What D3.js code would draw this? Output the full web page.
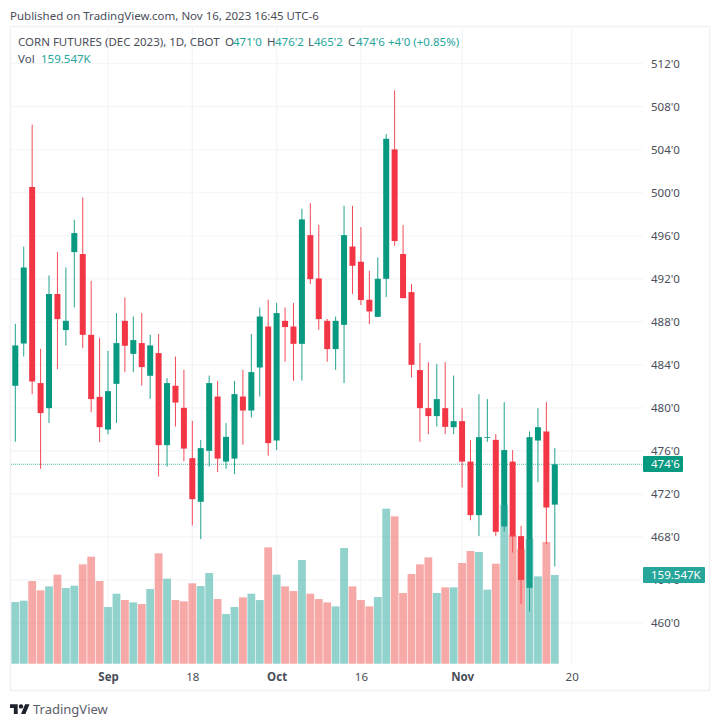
<!DOCTYPE html>
<html>
<head>
<meta charset="utf-8">
<script src="https://cdn.jsdelivr.net/npm/d3@7"></script>
<style>
  html, body { margin: 0; padding: 0; background: #fff; }
  text { font-family: "Noto Sans", sans-serif; }
</style>
</head>
<body>
<div id="chart"></div>
<script>
const opens = [
  482.05, 485.98, 500.53, 482.30, 479.97, 490.58, 487.23, 494.48, 494.30, 486.79,
  481.02, 477.98, 482.23, 488.09, 485.02, 486.02, 482.98, 485.09, 476.53, 482.05,
  480.00, 475.32, 471.26, 476.00, 481.05, 475.00, 475.28, 481.05, 479.75, 483.75,
  487.56, 476.96, 488.09, 487.56, 485.95, 496.06, 492.03, 488.09, 485.46, 487.72,
  495.00, 493.58, 490.05, 488.46, 492.00, 504.03, 494.30, 490.76, 483.51, 479.97,
  479.23, 479.97, 478.20, 478.76, 475.00, 470.02, 477.24, 477.02, 468.96, 475.00,
  468.07, 463.26, 476.96, 477.80, 471.00
];
const highs = [
  487.81, 495.00, 506.33, 485.49, 492.31, 494.48, 493.05, 497.49, 499.56, 491.81,
  486.51, 485.30, 488.81, 490.26, 488.49, 488.81, 486.79, 486.86, 482.76, 484.77,
  483.53, 478.79, 477.02, 483.00, 482.51, 478.58, 482.51, 483.53, 486.86, 489.33,
  490.05, 489.74, 489.33, 489.74, 498.51, 499.04, 497.02, 488.28, 488.49, 498.79,
  498.79, 496.81, 492.74, 493.98, 505.46, 509.52, 496.99, 491.51, 486.02, 484.25,
  484.06, 484.25, 483.00, 479.97, 477.02, 481.27, 480.81, 477.55, 480.53, 476.07,
  469.02, 477.80, 479.97, 480.53, 476.25
];
const lows = [
  476.84, 484.77, 481.27, 474.33, 478.58, 483.60, 485.80, 489.33, 485.55, 479.60,
  476.81, 477.55, 478.58, 483.32, 483.32, 482.07, 480.84, 473.61, 474.54, 478.26,
  475.04, 469.05, 467.79, 474.54, 474.02, 474.33, 473.83, 476.56, 479.10, 481.05,
  475.56, 476.07, 484.28, 482.51, 482.54, 491.51, 487.26, 484.28, 483.53, 482.30,
  490.58, 489.55, 487.79, 488.46, 490.30, 495.07, 490.20, 482.82, 476.84, 477.55,
  478.26, 477.55, 477.55, 472.59, 469.55, 468.09, 476.84, 468.09, 468.49, 466.54,
  461.77, 461.05, 473.09, 467.32, 465.25
];
const closes = [
  485.80, 493.05, 482.45, 479.51, 490.58, 488.25, 488.09, 496.25, 486.79, 480.81,
  478.20, 481.55, 486.02, 485.77, 486.30, 483.79, 485.80, 476.53, 482.30, 480.49,
  476.21, 471.51, 476.25, 482.30, 475.28, 477.30, 481.27, 479.75, 483.32, 488.49,
  476.72, 488.81, 487.51, 485.95, 497.52, 491.97, 488.25, 485.46, 488.09, 496.06,
  493.21, 490.02, 488.96, 492.00, 505.02, 495.51, 490.20, 484.00, 479.97, 479.23,
  480.81, 478.23, 478.76, 475.00, 470.02, 477.27, 477.27, 468.47, 476.07, 468.03,
  464.00, 477.27, 478.20, 470.73, 474.75
];
const volumes = [
  110.9, 113.3, 148.7, 131.9, 139.1, 160.1, 136.1, 140.3, 178.7, 192.5,
  148.7, 101.9, 125.9, 114.5, 110.3, 107.3, 134.3, 198.5, 152.9, 114.5,
  112.1, 144.5, 139.7, 163.1, 116.3, 89.3, 101.9, 119.3, 125.9, 114.5,
  209.3, 160.1, 139.1, 130.7, 186.5, 125.9, 116.3, 110.3, 103.1, 208.1,
  139.1, 114.5, 103.1, 119.9, 278.8, 265.0, 127.1, 161.3, 178.7, 191.3,
  127.1, 137.3, 137.3, 181.1, 202.7, 200.9, 133.1, 179.9, 285.4, 231.4,
  206.3, 224.3, 157.1, 218.9, 159.547
];
const priceTicks = [460, 464, 468, 472, 476, 480, 484, 488, 492, 496, 500, 504, 508, 512];
// bar number of each label on the time axis, Aug 17 is bar 0
const timeTickBars = [11, 21, 31, 41, 53, 66];
const timeTickLabels = ['Sep', '18', 'Oct', '16', 'Nov', '20'];
const boldTimeLabels = ['Sep', 'Oct', 'Nov'];

const upColor = '#089981';
const downColor = '#f23645';
const textColor = '#4a4e59';
const gridColor = '#f4f5f8';

const fmtPrice = (p) => `${Math.floor(p)}'${Math.round((p % 1) * 8)}`;

const svg = d3.select('#chart')
  .append('svg')
  .attr('width', 720)
  .attr('height', 726)
  .style('display', 'block');

const plotLeft = 11;
const plotRight = 643;
const plotTop = 27;
const plotBottom = 663.7;

const x = d3.scaleLinear().domain([0, 64]).range([15.3, 554.8]);
const y = d3.scaleLinear().domain([460, 512]).range([622.9, 63.7]);
const yVol = d3.scaleLinear().domain([0, 300]).range([plotBottom, plotBottom - 166.8]);

const bars = opens.map((o, i) => ({ i, o, h: highs[i], l: lows[i], c: closes[i], v: volumes[i] }));
const barColor = (d) => (d.c >= d.o ? upColor : downColor);

// frame
svg.append('rect')
  .attr('x', 10.5)
  .attr('y', 26.5)
  .attr('width', 699)
  .attr('height', 664)
  .attr('fill', 'none')
  .attr('stroke', '#eff1f6')
  .attr('stroke-width', 1.4);

// grid
svg.append('g')
  .selectAll('line')
  .data(priceTicks)
  .enter()
  .append('line')
  .attr('x1', plotLeft)
  .attr('x2', plotRight)
  .attr('y1', (d) => y(d))
  .attr('y2', (d) => y(d))
  .attr('stroke', gridColor)
  .attr('stroke-width', 1.2);

svg.append('g')
  .selectAll('line')
  .data(timeTickBars)
  .enter()
  .append('line')
  .attr('x1', (d) => x(d))
  .attr('x2', (d) => x(d))
  .attr('y1', plotTop)
  .attr('y2', plotBottom)
  .attr('stroke', gridColor)
  .attr('stroke-width', 1.2);

// last price line
svg.append('line')
  .attr('x1', plotLeft)
  .attr('x2', plotRight)
  .attr('y1', y(474.75))
  .attr('y2', y(474.75))
  .attr('stroke', upColor)
  .attr('stroke-width', 1)
  .attr('stroke-dasharray', '1 1')
  .attr('opacity', 0.7);

// candles
const candles = svg.append('g').selectAll('g').data(bars).enter().append('g');

candles.append('line')
  .attr('x1', (d) => x(d.i))
  .attr('x2', (d) => x(d.i))
  .attr('y1', (d) => y(d.h))
  .attr('y2', (d) => y(d.l))
  .attr('stroke', barColor)
  .attr('stroke-width', 0.9);

candles.append('rect')
  .attr('x', (d) => x(d.i) - 3)
  .attr('y', (d) => y(Math.max(d.o, d.c)))
  .attr('width', 6)
  .attr('height', (d) => Math.max(0.8, Math.abs(y(d.o) - y(d.c))))
  .attr('fill', barColor);

// volume sits over the candles
svg.append('g')
  .selectAll('rect')
  .data(bars)
  .enter()
  .append('rect')
  .attr('x', (d) => x(d.i) - 3.9)
  .attr('y', (d) => yVol(d.v))
  .attr('width', 7.8)
  .attr('height', (d) => plotBottom - yVol(d.v))
  .attr('fill', (d) => (d.c >= d.o ? '#26a69a' : '#ef5350'))
  .attr('opacity', 0.5);

// price axis
const priceAxis = svg.append('g')
  .attr('transform', `translate(${plotRight},0)`)
  .call(d3.axisRight(y).tickValues(priceTicks).tickSize(0).tickPadding(8).tickFormat(fmtPrice));
priceAxis.select('.domain').remove();
priceAxis.selectAll('text')
  .attr('fill', textColor)
  .style('font-size', '11.5px');

// time axis
const timeAxis = svg.append('g')
  .attr('transform', `translate(0,${plotBottom})`)
  .call(d3.axisBottom(x)
    .tickValues(timeTickBars)
    .tickSize(0)
    .tickPadding(9)
    .tickFormat((d, i) => timeTickLabels[i]));
timeAxis.select('.domain').remove();
timeAxis.selectAll('text')
  .attr('fill', textColor)
  .style('font-size', '11.5px')
  .style('font-weight', (d, i) => (boldTimeLabels.includes(timeTickLabels[i]) ? 700 : 400));

// price and volume tags
svg.append('rect')
  .attr('x', 643).attr('y', 456).attr('width', 40).attr('height', 16).attr('rx', 1)
  .attr('fill', upColor);
svg.append('text')
  .attr('x', 651).attr('y', 468)
  .attr('fill', '#fff')
  .style('font-size', '11.5px')
  .text(fmtPrice(474.75));

svg.append('rect')
  .attr('x', 643).attr('y', 567).attr('width', 62).attr('height', 16).attr('rx', 1)
  .attr('fill', '#26a69a');
svg.append('text')
  .attr('x', 651).attr('y', 579)
  .attr('fill', '#fff')
  .style('font-size', '11.5px')
  .text('159.547K');

// header and legend
svg.append('text')
  .attr('x', 10).attr('y', 20)
  .attr('fill', textColor)
  .style('font-size', '11.5px')
  .text('Published on TradingView.com, Nov 16, 2023 16:45 UTC-6');

const legendParts = [
  { x: 18, text: 'CORN FUTURES (DEC 2023), 1D, CBOT', fill: textColor },
  { x: 225, text: 'O', fill: textColor },
  { x: 233, text: fmtPrice(opens[64]), fill: '#26a69a' },
  { x: 267, text: 'H', fill: textColor },
  { x: 275, text: fmtPrice(highs[64]), fill: '#26a69a' },
  { x: 308, text: 'L', fill: textColor },
  { x: 314, text: fmtPrice(lows[64]), fill: '#26a69a' },
  { x: 348, text: 'C', fill: textColor },
  { x: 356, text: fmtPrice(closes[64]), fill: '#26a69a' },
  { x: 388, text: "+4'0 (+0.85%)", fill: '#26a69a' }
];
svg.append('g')
  .selectAll('text')
  .data(legendParts)
  .enter()
  .append('text')
  .attr('x', (d) => d.x)
  .attr('y', 46)
  .attr('fill', (d) => d.fill)
  .style('font-size', '11.5px')
  .text((d) => d.text);

svg.append('text')
  .attr('x', 18).attr('y', 63)
  .attr('fill', textColor)
  .style('font-size', '11.5px')
  .text('Vol');
svg.append('text')
  .attr('x', 41).attr('y', 63)
  .attr('fill', '#26a69a')
  .style('font-size', '11.5px')
  .text('159.547K');

// logo
const logo = svg.append('g').attr('transform', 'translate(10,702) scale(0.55)').attr('fill', '#1e222d');
logo.append('path').attr('d', 'M14 22H7V11H0V4h14v18zM28 22h-8l7.5-18h8L28 22z');
logo.append('circle').attr('cx', 20).attr('cy', 8).attr('r', 4);
svg.append('text')
  .attr('x', 33).attr('y', 714)
  .attr('fill', '#5d606b')
  .style('font-size', '13px')
  .text('TradingView');
</script>
</body>
</html>
